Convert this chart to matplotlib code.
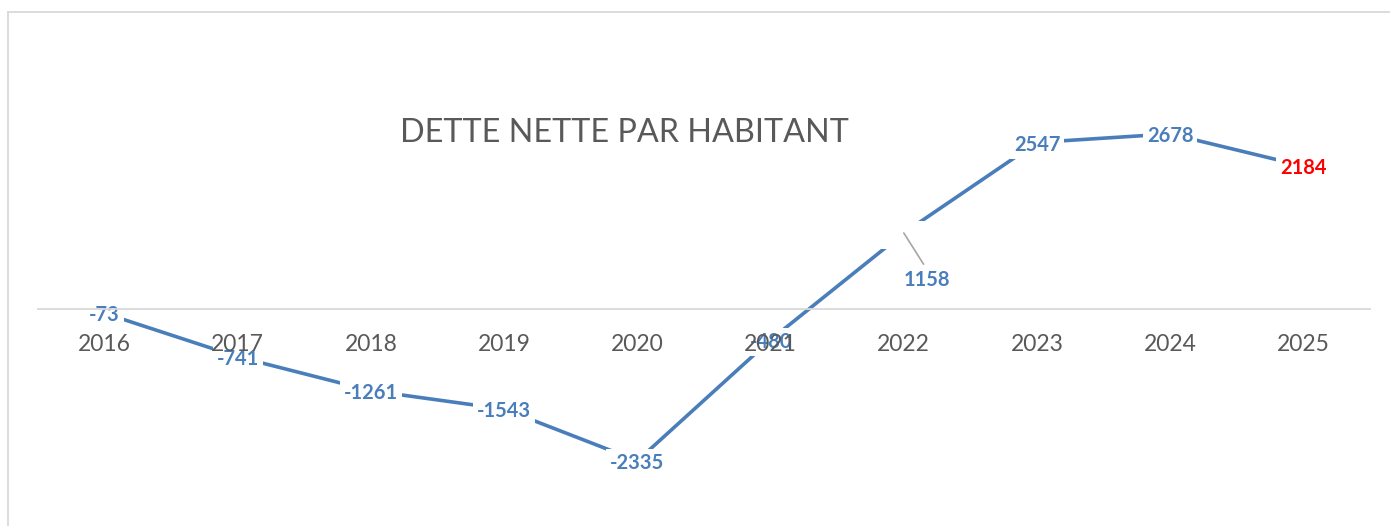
import matplotlib
matplotlib.use("Agg")
import matplotlib.pyplot as plt
from matplotlib.lines import Line2D

plt.rcParams["font.family"] = ["Lato", "DejaVu Sans"]

# data
years = ["2016", "2017", "2018", "2019", "2020", "2021", "2022", "2023", "2024", "2025"]
values = [-73, -741, -1261, -1543, -2335, -480, 1158, 2547, 2678, 2184]
title = "DETTE NETTE PAR HABITANT"

W, H = 1390, 526
blue = "#4A7EBB"
grey_txt = "#595959"
grey_line = "#D9D9D9"

fig = plt.figure(figsize=(W / 100, H / 100), dpi=100)
ax = fig.add_axes([38 / W, 16 / H, (1370 - 38) / W, (510 - 16) / H])

x = list(range(len(years)))
ax.plot(x, values, color=blue, lw=2.6, zorder=2, solid_capstyle="butt")
ax.set_xlim(-0.5, len(years) - 0.5)
ax.set_ylim(-3090, 4486)

# axis at zero, Excel-style
for s in ["top", "right", "left"]:
    ax.spines[s].set_visible(False)
ax.spines["bottom"].set_position(("data", 0))
ax.spines["bottom"].set_color(grey_line)
ax.spines["bottom"].set_linewidth(1.3)
ax.set_yticks([])
ax.set_xticks(x)
ax.set_xticklabels(years, fontsize=16.5, color=grey_txt)
ax.tick_params(axis="x", length=0, pad=18)
ax.set_axisbelow(False)
ax.xaxis.set_zorder(2.5)

lbl_box = dict(boxstyle="square,pad=0.2", fc="white", ec="none")
for i, v in enumerate(values):
    if years[i] == "2022":
        # empty box left at the original label place, label moved below
        ax.annotate(str(v), xy=(i, v), xytext=(0, -1.5), textcoords="offset points",
                    ha="center", va="center", fontsize=14.5, fontweight="bold",
                    color="white", bbox=lbl_box, zorder=2.3)
        ax.annotate(str(v), xy=(i, v), xytext=(17, -34), textcoords="offset points",
                    ha="center", va="center", fontsize=14.5, fontweight="bold",
                    color=blue, zorder=2.3,
                    bbox=dict(boxstyle="square,pad=0.3", fc="none", ec="none"),
                    arrowprops=dict(arrowstyle="-", color="#A6A6A6", lw=1.2,
                                    shrinkA=0, shrinkB=0, relpos=(0.5, 1.0)))
        continue
    col = "#FF0000" if years[i] == "2025" else blue
    ax.annotate(str(v), xy=(i, v), xytext=(0, -1.5), textcoords="offset points",
                ha="center", va="center", fontsize=14.5, fontweight="bold",
                color=col, bbox=lbl_box, zorder=2.3)

fig.text(624 / W, 1 - 133 / H, title, ha="center", va="center",
         fontsize=23.3, color=grey_txt)

# chart border
fig.add_artist(Line2D([8 / W, 1], [1 - 12 / H, 1 - 12 / H], color=grey_line, lw=1.3))
fig.add_artist(Line2D([8 / W, 8 / W], [0, 1 - 12 / H], color=grey_line, lw=1.3))

fig.savefig("out.png", dpi=100, facecolor="white")
